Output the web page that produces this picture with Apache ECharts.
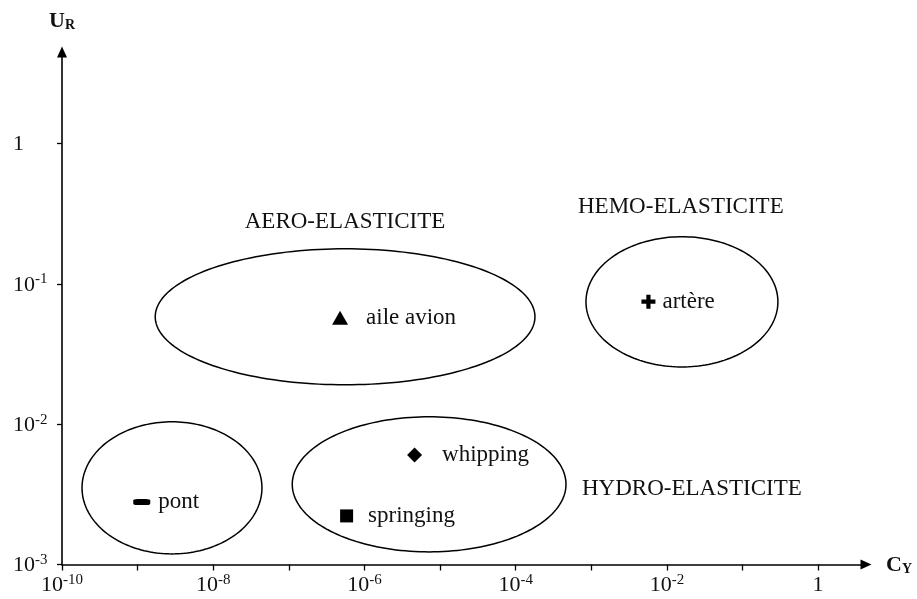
<!DOCTYPE html>
<html><head><meta charset="utf-8">
<script src="https://cdn.jsdelivr.net/npm/echarts@6/dist/echarts.min.js"></script>
<style>html,body{margin:0;padding:0;background:#fff}#c{width:917px;height:599px}</style>
</head><body><div id="c"></div>
<script>
// ---- data ----
const xTickValues = [1e-10, 1e-9, 1e-8, 1e-7, 1e-6, 1e-5, 1e-4, 1e-3, 1e-2, 1e-1, 1];
const xLabelValues = [1e-10, 1e-8, 1e-6, 1e-4, 1e-2, 1];
const yTickValues = [1e-3, 1e-2, 1e-1, 1];
const xAxisMin = 1e-10, xAxisMax = 4.3;
const yAxisMin = 1e-3, yAxisMax = 4.5;
const xAxisTitle = ['C', 'Y'];
const yAxisTitle = ['U', 'R'];

const pointNames = ['aile avion', 'artère', 'pont', 'whipping', 'springing'];
const pointX = [4.76e-7, 5.70e-3, 1.135e-9, 4.60e-6, 5.81e-7];
const pointY = [0.0574, 0.0747, 2.79e-3, 6.04e-3, 2.22e-3];

const regionNames = ['AERO-ELASTICITE', 'HEMO-ELASTICITE', '', 'HYDRO-ELASTICITE'];
// region extents (data space): x low/high, y low/high
const regionXLo = [1.71e-9, 8.51e-4, 1.84e-10, 1.11e-7];
const regionXHi = [1.80e-4, 0.294, 4.41e-8, 4.63e-4];
const regionYLo = [0.0191, 0.0256, 1.19e-3, 1.23e-3];
const regionYHi = [0.178, 0.217, 0.0104, 0.0113];
// region title anchor positions (data space)
const regionTitleX = [5.54e-7, 0.0153, null, 0.0214];
const regionTitleY = [0.277, 0.355, null, 3.46e-3];

// ---- styles ----
const FONT = 'Liberation Serif';
const markerStyles = [
  { symbol: 'triangle', size: [16, 14], gap: 18 },
  { symbol: 'path://M3.5,0h3v3.5h3.5v3h-3.5v3.5h-3v-3.5h-3.5v-3h3.5z', size: [14, 14], gap: 7 },
  { symbol: 'roundRect', size: [17, 6], gap: 8 },
  { symbol: 'diamond', size: [15, 15], gap: 20 },
  { symbol: 'rect', size: [13, 13], gap: 15 }
];
const tickRich = {
  b: { fontFamily: FONT, fontSize: 22, color: '#111', lineHeight: 24, verticalAlign: 'bottom' },
  s: { fontFamily: FONT, fontSize: 15, color: '#111', lineHeight: 14, verticalAlign: 'top' }
};
const nameRich = {
  m: { fontFamily: FONT, fontSize: 22, fontWeight: 'bold', color: '#111', lineHeight: 24, verticalAlign: 'bottom' },
  s: { fontFamily: FONT, fontSize: 14, fontWeight: 'bold', color: '#111', lineHeight: 14, verticalAlign: 'bottom' }
};
function powLabel(v) {
  const e = Math.round(Math.log10(v));
  if (e === 0) return '{b|1}';
  return '{b|10}{s|' + e + '}';
}
const axisLineStyle = { color: '#000', width: 1.6 };
const titledRegions = regionNames.map((n, i) => i).filter(i => regionNames[i]);

const chart = echarts.init(document.getElementById('c'), null, { renderer: 'canvas' });
chart.setOption({
  animation: false,
  backgroundColor: '#fff',
  grid: { left: 62, right: 51, top: 52, bottom: 34.5 },
  xAxis: {
    type: 'log', logBase: 10, min: xAxisMin, max: xAxisMax,
    name: '{m|' + xAxisTitle[0] + '}{s|' + xAxisTitle[1] + '}',
    nameLocation: 'end', nameGap: 20,
    nameTextStyle: { rich: nameRich, align: 'left', verticalAlign: 'middle' },
    axisLine: { show: true, lineStyle: axisLineStyle, symbol: ['none', 'triangle'], symbolSize: [10, 11] },
    axisTick: { show: true, length: 6, lineStyle: { color: '#000', width: 1.3 }, customValues: xTickValues },
    axisLabel: { show: true, margin: 8, customValues: xLabelValues, formatter: powLabel, rich: tickRich },
    splitLine: { show: false }, minorTick: { show: false }
  },
  yAxis: {
    type: 'log', logBase: 10, min: yAxisMin, max: yAxisMax,
    name: '{m|' + yAxisTitle[0] + '}{s|' + yAxisTitle[1] + '}',
    nameLocation: 'end', nameGap: 20,
    nameTextStyle: { rich: nameRich },
    axisLine: { show: true, lineStyle: axisLineStyle, symbol: ['none', 'triangle'], symbolSize: [10, 11] },
    axisTick: { show: true, length: 5, lineStyle: { color: '#000', width: 1.3 }, customValues: yTickValues },
    axisLabel: { show: true, margin: 49, align: 'left', customValues: yTickValues, formatter: powLabel, rich: tickRich },
    splitLine: { show: false }, minorTick: { show: false }
  },
  series: [
    {
      type: 'custom',
      coordinateSystem: 'cartesian2d',
      encode: { x: [0, 1], y: [2, 3] },
      data: regionXLo.map((v, i) => [v, regionXHi[i], regionYLo[i], regionYHi[i]]),
      renderItem: function (params, api) {
        const p0 = api.coord([api.value(0), api.value(2)]);
        const p1 = api.coord([api.value(1), api.value(3)]);
        const cx = (p0[0] + p1[0]) / 2, cy = (p0[1] + p1[1]) / 2;
        const rx = Math.abs(p1[0] - p0[0]) / 2, ry = Math.abs(p1[1] - p0[1]) / 2;
        const pts = [];
        for (let k = 0; k < 180; k++) {
          const t = k / 180 * 2 * Math.PI;
          pts.push([cx + rx * Math.cos(t), cy + ry * Math.sin(t)]);
        }
        return { type: 'polygon', shape: { points: pts }, style: { fill: 'none', stroke: '#000', lineWidth: 1.5 } };
      },
      silent: true, z: 2
    },
    {
      type: 'custom',
      coordinateSystem: 'cartesian2d',
      data: titledRegions.map(i => ({ value: [regionTitleX[i], regionTitleY[i]], name: regionNames[i] })),
      renderItem: function (params, api) {
        const p = api.coord([api.value(0), api.value(1)]);
        return {
          type: 'text', x: p[0], y: p[1],
          style: { text: regionNames[titledRegions[params.dataIndex]], fontFamily: FONT, fontSize: 23, fill: '#111', align: 'center', verticalAlign: 'middle' }
        };
      },
      silent: true, z: 3
    },
    {
      type: 'scatter',
      data: pointNames.map((n, i) => ({
        name: n,
        value: [pointX[i], pointY[i]],
        symbol: markerStyles[i].symbol,
        symbolSize: markerStyles[i].size,
        label: { distance: markerStyles[i].gap }
      })),
      itemStyle: { color: '#000', opacity: 1 },
      label: { show: true, position: 'right', formatter: '{b}', fontFamily: FONT, fontSize: 23, color: '#111' },
      silent: true, z: 4
    }
  ]
});
</script>
</body></html>
